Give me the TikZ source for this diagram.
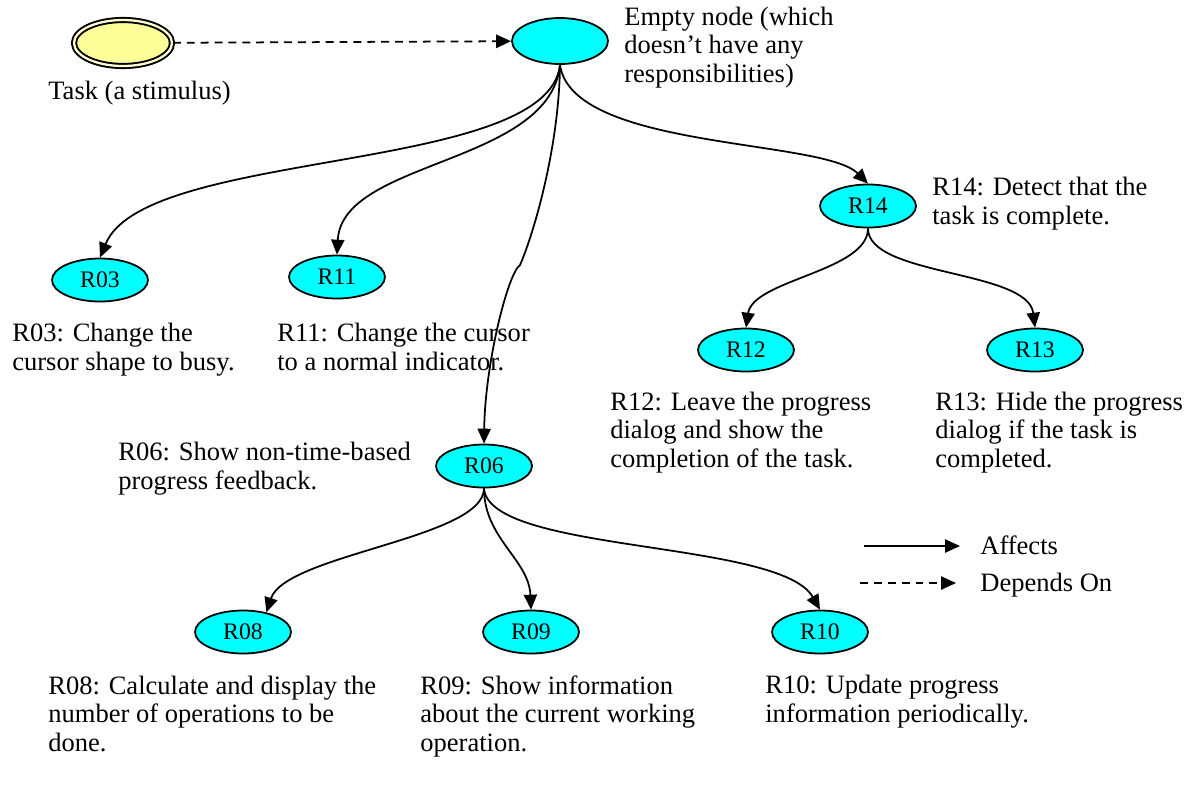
\documentclass[tikz,border=0pt]{standalone}
\usepackage{fontspec}
\setmainfont{Liberation Serif}
\usetikzlibrary{arrows.meta, shapes.geometric}
\definecolor{respcyan}{RGB}{0,255,255}
\definecolor{stimyellow}{RGB}{255,255,153}
\definecolor{stimgap}{RGB}{255,255,210}
\tikzset{
    resp/.style={ellipse, draw=black, line width=1pt, fill=respcyan, minimum width=1.92cm, minimum height=0.86cm, inner sep=0pt, font=\fontsize{13.5}{15}\selectfont},
    stim/.style={ellipse, draw=black, line width=1.1pt, double=stimgap, double distance=1.3pt, fill=stimyellow, minimum width=1.96cm, minimum height=0.92cm, inner sep=0pt},
    note/.style={anchor=base west, align=left, inner sep=0pt, font=\fontsize{15.1}{16.05}\selectfont},
    affects/.style={-{Triangle[length=8.5pt, width=7.5pt]}, line width=1pt},
    depends/.style={affects, dash pattern=on 4.5pt off 3.4pt}
}
\begin{document}
\begin{tikzpicture}[x=0.02cm, y=0.02cm]
        \useasboundingbox (0,0) rectangle (1200,-789);
        % Stimulus and empty root
        \node[stim] (task) at (123,-43) {};
        \node[resp, minimum height=0.92cm] (root) at (560,-41) {};
        \node[note] (taskL) at (48,-99) {Task (a stimulus)};
        \node[note] (rootL) at (624,-82) {Empty node (which\\doesn’t have any\\responsibilities)};

        % Responsibilities
        \node[resp] (R14) at (868,-206) {R14};
        \node[resp] (R03) at (100,-280) {R03};
        \node[resp] (R11) at (337,-277) {R11};
        \node[resp] (R12) at (746,-350) {R12};
        \node[resp] (R13) at (1035,-350) {R13};
        \node[resp] (R06) at (484,-466) {R06};
        \node[resp] (R08) at (243,-632) {R08};
        \node[resp] (R09) at (531,-632) {R09};
        \node[resp] (R10) at (820,-632) {R10};

        % labels (anchored on their last line)
        \node[note] (R14L) at (932,-224) {R14: Detect that the\\task is complete.};
        \node[note] (R03L) at (12,-370) {R03: Change the\\cursor shape to busy.};
        \node[note] (R11L) at (277,-370) {R11: Change the cursor\\to a normal indicator.};
        \node[note] (R12L) at (610,-467) {R12: Leave the progress\\dialog and show the\\completion of the task.};
        \node[note] (R13L) at (935,-467) {R13: Hide the progress\\dialog if the task is\\completed.};
        \node[note] (R06L) at (118,-489) {R06: Show non-time-based\\progress feedback.};
        \node[note] (R08L) at (48,-751) {R08: Calculate and display the\\number of operations to be\\done.};
        \node[note] (R09L) at (420,-751) {R09: Show information\\about the current working\\operation.};
        \node[note] (R10L) at (765,-722) {R10: Update progress\\information periodically.};

        % Links
        \draw[depends] (task) -- (root);
        \draw[affects] (root.south) .. controls +(-12,-110) and +(45,110) .. (R03.north);
        \draw[affects] (root.south) .. controls +(-10,-100) and +(5,95) .. (R11.north);
        \coordinate (k06) at (520,-265);
        \draw[affects] (root.south) .. controls +(-1,-86) and +(12,27) .. (k06)
            .. controls +(-12,-8) and +(1,80) .. (R06.north);
        \draw[affects] (root.south) .. controls +(12,-85) and +(-45,45) .. (R14.north);
        \draw[affects] (R14.south) .. controls +(0,-43) and +(7,48) .. (R12.north);
        \draw[affects] (R14.south) .. controls +(0,-48) and +(-7,58) .. (R13.north);
        \draw[affects] (R06.south) .. controls +(0,-50) and +(19,58) .. (R08.40);
        \draw[affects] (R06.south) .. controls +(0,-50) and +(-2,50) .. (R09.north);
        \draw[affects] (R06.south) .. controls +(5,-65) and +(-40,70) .. (R10.north);

        % Legend
        \coordinate (af1) at (864,-546);
        \coordinate (af2) at (960,-546);
        \coordinate (dp1) at (860,-583);
        \coordinate (dp2) at (956,-583);
        \draw[affects] (af1) -- (af2);
        \draw[depends] (dp1) -- (dp2);
        \node[note] (afL) at (980,-554) {Affects};
        \node[note] (dpL) at (980,-591) {Depends On};
    \end{tikzpicture}
\end{document}
